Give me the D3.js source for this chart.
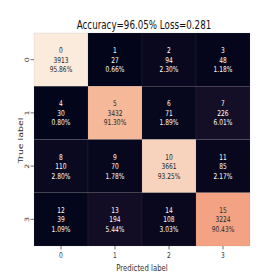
<!DOCTYPE html>
<html>
<head>
<meta charset="utf-8">
<script src="https://cdn.jsdelivr.net/npm/d3@7"></script>
<style>
  html, body { margin: 0; padding: 0; background: #fff; }
  svg { display: block; font-family: "DejaVu Sans", sans-serif; }
</style>
</head>
<body>
<div id="chart"></div>
<script>
// confusion matrix values
const classes = ["0", "1", "2", "3"];
const counts = [
    [3913, 27, 94, 48],
    [30, 3432, 71, 226],
    [110, 70, 3661, 85],
    [39, 194, 108, 3224]
];
const percents = [
    ["95.86%", "0.66%", "2.30%", "1.18%"],
    ["0.80%", "91.30%", "1.89%", "6.01%"],
    ["2.80%", "1.78%", "93.25%", "2.17%"],
    ["1.09%", "5.44%", "3.03%", "90.43%"]
];
const accuracy = "96.05%";
const loss = "0.281";

// rocket-like colormap stops
const rocketPos = [0, 0.06, 0.12, 0.25, 0.417, 0.583, 0.75, 0.82, 0.876, 0.935, 1];
const rocketCol = ["#03051a", "#180f29", "#2b1437", "#701f57", "#ad1759", "#e13342",
                   "#f37651", "#f3a282", "#f5b898", "#f7d2bc", "#faebdd"];

// the original figure is squashed horizontally
const sx = 0.74;
const W = 278, H = 278;
const VW = W / sx;
const margin = {top: 33, right: (278 - 250) / sx, bottom: 278 - 246, left: 34 / sx};
const pw = VW - margin.left - margin.right;
const ph = H - margin.top - margin.bottom;

const cells = [];
counts.forEach((row, i) => row.forEach((v, j) => {
    cells.push({row: i, col: j, idx: i * classes.length + j, value: v, pct: percents[i][j]});
}));

const svg = d3.select("#chart").append("svg")
    .attr("width", W)
    .attr("height", H)
    .attr("viewBox", "0 0 " + VW + " " + H)
    .attr("preserveAspectRatio", "none");

const x = d3.scaleBand().domain(classes).range([0, pw]);
const y = d3.scaleBand().domain(classes).range([0, ph]);

const vmin = d3.min(cells, d => d.value), vmax = d3.max(cells, d => d.value);
const color = d3.scaleLinear()
    .domain(rocketPos.map(t => vmin + t * (vmax - vmin)))
    .range(rocketCol)
    .clamp(true);

const g = svg.append("g")
    .attr("transform", "translate(" + margin.left + "," + margin.top + ")");

g.selectAll(".cell").data(cells).enter().append("rect")
    .attr("class", "cell")
    .attr("x", d => x(classes[d.col]))
    .attr("y", d => y(classes[d.row]))
    .attr("width", x.bandwidth())
    .attr("height", y.bandwidth())
    .style("fill", d => color(d.value))
    .style("stroke", "rgba(128,128,128,0.25)")
    .style("stroke-width", 0.5);

// annotations: index, count, percent
const lineH = 9.4;
const ann = g.selectAll(".ann").data(cells).enter().append("text")
    .attr("class", "ann")
    .attr("text-anchor", "middle")
    .style("font-size", "8px")
    .style("fill", d => d3.lab(color(d.value)).l > 60 ? "#262626" : "#ffffff");

ann.each(function(d) {
    const cx = x(classes[d.col]) + x.bandwidth() / 2;
    const cy = y(classes[d.row]) + y.bandwidth() / 2;
    const lines = [String(d.idx), String(d.value), d.pct];
    d3.select(this).selectAll("tspan").data(lines).enter().append("tspan")
        .attr("x", cx)
        .attr("y", (t, k) => cy + (k - 1) * lineH + 3)
        .text(t => t);
});

// x axis
const xAxis = g.append("g")
    .attr("transform", "translate(0," + ph + ")")
    .call(d3.axisBottom(x).tickSize(3.5).tickPadding(2.5));
xAxis.select(".domain").remove();
xAxis.selectAll("line").style("stroke", "#333").style("stroke-width", 0.8);
xAxis.selectAll("text").style("font-size", "8px").style("fill", "#333")
    .style("font-family", "DejaVu Sans, sans-serif");

// y axis, labels rotated
const yLabX = -(margin.left - 26.5 / sx);
const yAxis = g.append("g")
    .call(d3.axisLeft(y).tickSize(3.5 / sx).tickPadding(2));
yAxis.select(".domain").remove();
yAxis.selectAll("line").style("stroke", "#333").style("stroke-width", 0.8);
yAxis.selectAll("text")
    .style("font-size", "8px").style("fill", "#333")
    .style("font-family", "DejaVu Sans, sans-serif")
    .attr("text-anchor", "middle")
    .attr("dy", null)
    .attr("dominant-baseline", "central")
    .attr("x", yLabX)
    .attr("transform", "rotate(-90," + yLabX + ",0)");

// titles
svg.append("text")
    .attr("x", margin.left + pw / 2 + 2 / sx)
    .attr("y", 29.3)
    .attr("text-anchor", "middle")
    .style("font-size", "11.8px")
    .style("fill", "#111")
    .text("Accuracy=" + accuracy + " Loss=" + loss);

svg.append("text")
    .attr("x", margin.left + pw / 2)
    .attr("y", 271.5)
    .attr("text-anchor", "middle")
    .style("font-size", "9.4px")
    .style("fill", "#333")
    .text("Predicted label");

svg.append("text")
    .attr("transform", "translate(" + (20 / sx) + "," + (margin.top + ph / 2 + 1) + ") rotate(-90)")
    .attr("text-anchor", "middle")
    .attr("dominant-baseline", "central")
    .style("font-size", "9.4px")
    .style("fill", "#333")
    .text("True label");
</script>
</body>
</html>
